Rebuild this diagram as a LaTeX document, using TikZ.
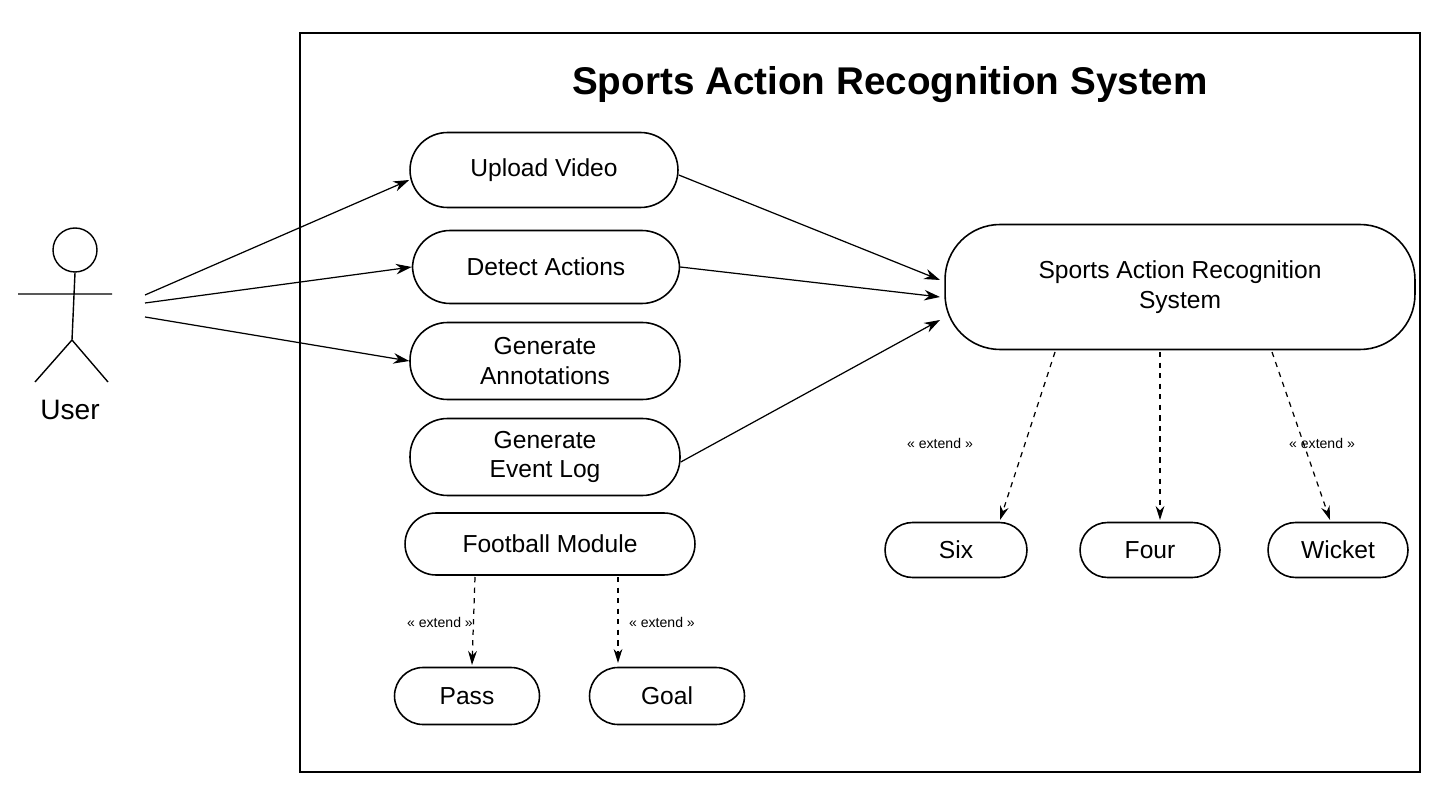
\documentclass[tikz,border=0pt]{standalone}
\usepackage{fontspec}
\setmainfont{Liberation Sans}
\usetikzlibrary{arrows.meta}
\begin{document}
\begin{tikzpicture}[x=0.02cm,y=-0.02cm,
  uc/.style={draw,line width=0.9pt,rounded corners=0.75cm,inner sep=2pt,align=center,font=\fontsize{14}{17}\selectfont},
  ar/.style={-{Stealth[length=9pt,width=6pt]},line width=0.7pt},
  ex/.style={-{Stealth[length=8pt,width=5pt]},dashed,line width=0.7pt},
  lb/.style={font=\fontsize{8}{10}\selectfont}]
\useasboundingbox (0,0) rectangle (1449,810);
\node[draw,line width=0.9pt,minimum width=22.4cm,minimum height=14.78cm] (sys) at (860,402.5) {};
\node[font=\bfseries\fontsize{22}{26}\selectfont] (title) at (890,85) {Sports Action Recognition System};
% actor
\node[draw,circle,line width=0.8pt,minimum size=0.88cm,inner sep=0] (head) at (75,250) {};
\coordinate (neck) at (75,272);
\coordinate (hip) at (72,340);
\coordinate (la) at (18,294); \coordinate (ra) at (112,294);
\coordinate (ll) at (35,382); \coordinate (rl) at (108,382);
\draw[line width=0.8pt] (head.south) -- (hip) (la) -- (ra) (ll) -- (hip) -- (rl);
\node[font=\fontsize{16}{19}\selectfont] (user) at (70,410) {User};
\coordinate (u1) at (145,295); \coordinate (u2) at (145,303); \coordinate (u3) at (145,317);
% use cases
\node[uc,minimum width=5.36cm,minimum height=1.5cm] (up) at (544,170) {Upload Video};
\node[uc,minimum width=5.34cm,minimum height=1.46cm] (det) at (546,267) {Detect Actions};
\node[uc,minimum width=5.4cm,minimum height=1.54cm] (ann) at (545,361) {Generate\\Annotations};
\node[uc,minimum width=5.4cm,minimum height=1.54cm] (log) at (545,457) {Generate\\Event Log};
\node[uc,minimum width=5.8cm,minimum height=1.24cm,rounded corners=0.62cm] (foot) at (550,544) {Football Module};
\node[uc,minimum width=2.9cm,minimum height=1.14cm,rounded corners=0.57cm] (pass) at (467,696) {Pass};
\node[uc,minimum width=3.1cm,minimum height=1.14cm,rounded corners=0.57cm] (goal) at (667,696) {Goal};
\node[uc,minimum width=9.4cm,minimum height=2.5cm,rounded corners=1.1cm] (sars) at (1180,287) {Sports Action Recognition\\System};
\node[uc,minimum width=2.84cm,minimum height=1.1cm,rounded corners=0.55cm] (six) at (956,550) {Six};
\node[uc,minimum width=2.8cm,minimum height=1.1cm,rounded corners=0.55cm] (four) at (1150,550) {Four};
\node[uc,minimum width=2.8cm,minimum height=1.1cm,rounded corners=0.55cm] (wick) at (1338,550) {Wicket};
% arrows
\draw[ar] (u1) -- (up.west|-0,180);
\draw[ar] (u2) -- (det.west);
\draw[ar] (u3) -- (ann.west);
\draw[ar] (up.east|-0,175) -- (940,280);
\draw[ar] (det.east) -- (940,297);
\draw[ar] (log.east|-0,462) -- (940,320);
\draw[ex] (1055,352) -- (1000,520);
\draw[ex] (1160,352) -- (1160,520);
\draw[ex] (1272,352) -- (1330,520);
\draw[ex] (475,577) -- (472,665);
\draw[ex] (618,577) -- (618,663);
\node[lb] (e1) at (940,443) {« extend »};
\node[lb] (e2) at (1322,443) {« extend »};
\node[lb] (e3) at (440,622) {« extend »};
\node[lb] (e4) at (662,622) {« extend »};
\end{tikzpicture}
\end{document}
